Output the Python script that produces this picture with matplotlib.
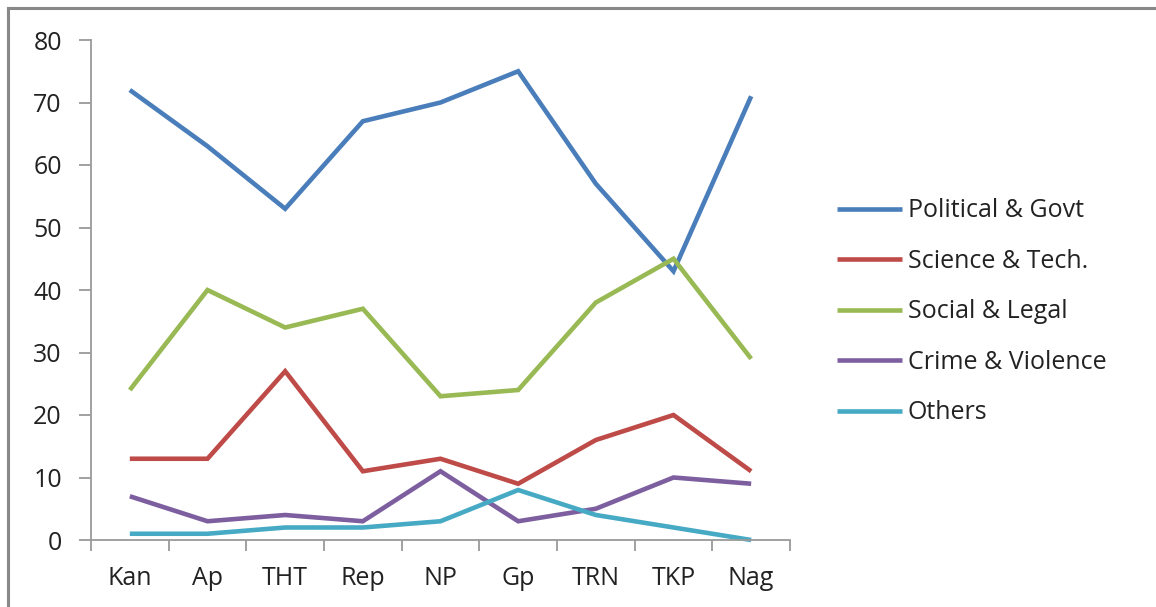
import matplotlib
matplotlib.use("Agg")
import matplotlib.pyplot as plt
from matplotlib.lines import Line2D

categories = ["Kan", "Ap", "THT", "Rep", "NP", "Gp", "TRN", "TKP", "Nag"]
political = [72, 63, 53, 67, 70, 75, 57, 43, 71]
science = [13, 13, 27, 11, 13, 9, 16, 20, 11]
social = [24, 40, 34, 37, 23, 24, 38, 45, 29]
crime = [7, 3, 4, 3, 11, 3, 5, 10, 9]
others = [1, 1, 2, 2, 3, 8, 4, 2, 0]

series = [
    ("Political & Govt", political, "#4a7ebb"),
    ("Science & Tech.", science, "#be4b48"),
    ("Social & Legal", social, "#98b954"),
    ("Crime & Violence", crime, "#7d5fa0"),
    ("Others", others, "#46aac5"),
]

plt.rcParams["font.family"] = ["Open Sans", "DejaVu Sans"]

W, H = 1156, 607
fig = plt.figure(figsize=(W / 100, H / 100), dpi=100)
fig.patch.set_facecolor("white")

# outer frame: top and left edges
fig.add_artist(Line2D([8 / W, 1.0], [1 - 8 / H, 1 - 8 / H], color="#888888", lw=2.2,
                      transform=fig.transFigure))
fig.add_artist(Line2D([8 / W, 8 / W], [0.0, 1 - 8 / H], color="#888888", lw=2.2,
                      transform=fig.transFigure))

x0, x1 = 91, 790
y_top, y_bot = 40, 540
ax = fig.add_axes([x0 / W, 1 - y_bot / H, (x1 - x0) / W, (y_bot - y_top) / H])

xs = list(range(len(categories)))
handles = []
for name, vals, color in series:
    h, = ax.plot(xs, vals, color=color, lw=3.3, solid_capstyle="butt",
                 solid_joinstyle="miter", label=name, clip_on=False)
    handles.append(h)

ax.set_xlim(-0.5, len(categories) - 0.5)
ax.set_ylim(0, 80)
ax.set_yticks(range(0, 81, 10))
ax.set_xticks(xs)
ax.set_xticklabels(categories)
ax.set_xticks([i - 0.5 for i in range(len(categories) + 1)], minor=True)

for s in ["top", "right"]:
    ax.spines[s].set_visible(False)
for s in ["left", "bottom"]:
    ax.spines[s].set_color("#9a9a9a")
    ax.spines[s].set_linewidth(1.3)

ax.tick_params(axis="y", length=9, width=1.3, color="#9a9a9a", labelsize=18,
               labelcolor="#222222", pad=12)
ax.tick_params(axis="x", which="major", length=0, labelsize=18,
               labelcolor="#222222", pad=19)
ax.tick_params(axis="x", which="minor", length=8, width=1.3, color="#9a9a9a")

leg = fig.legend(handles=handles, loc="upper left",
                 bbox_to_anchor=(814 / W, 1 - 176 / H), frameon=False,
                 fontsize=18, handlelength=2.6, handletextpad=0.25,
                 labelspacing=1.02)
for t in leg.get_texts():
    t.set_color("#222222")

fig.savefig("out.png", dpi=100, facecolor="white")
